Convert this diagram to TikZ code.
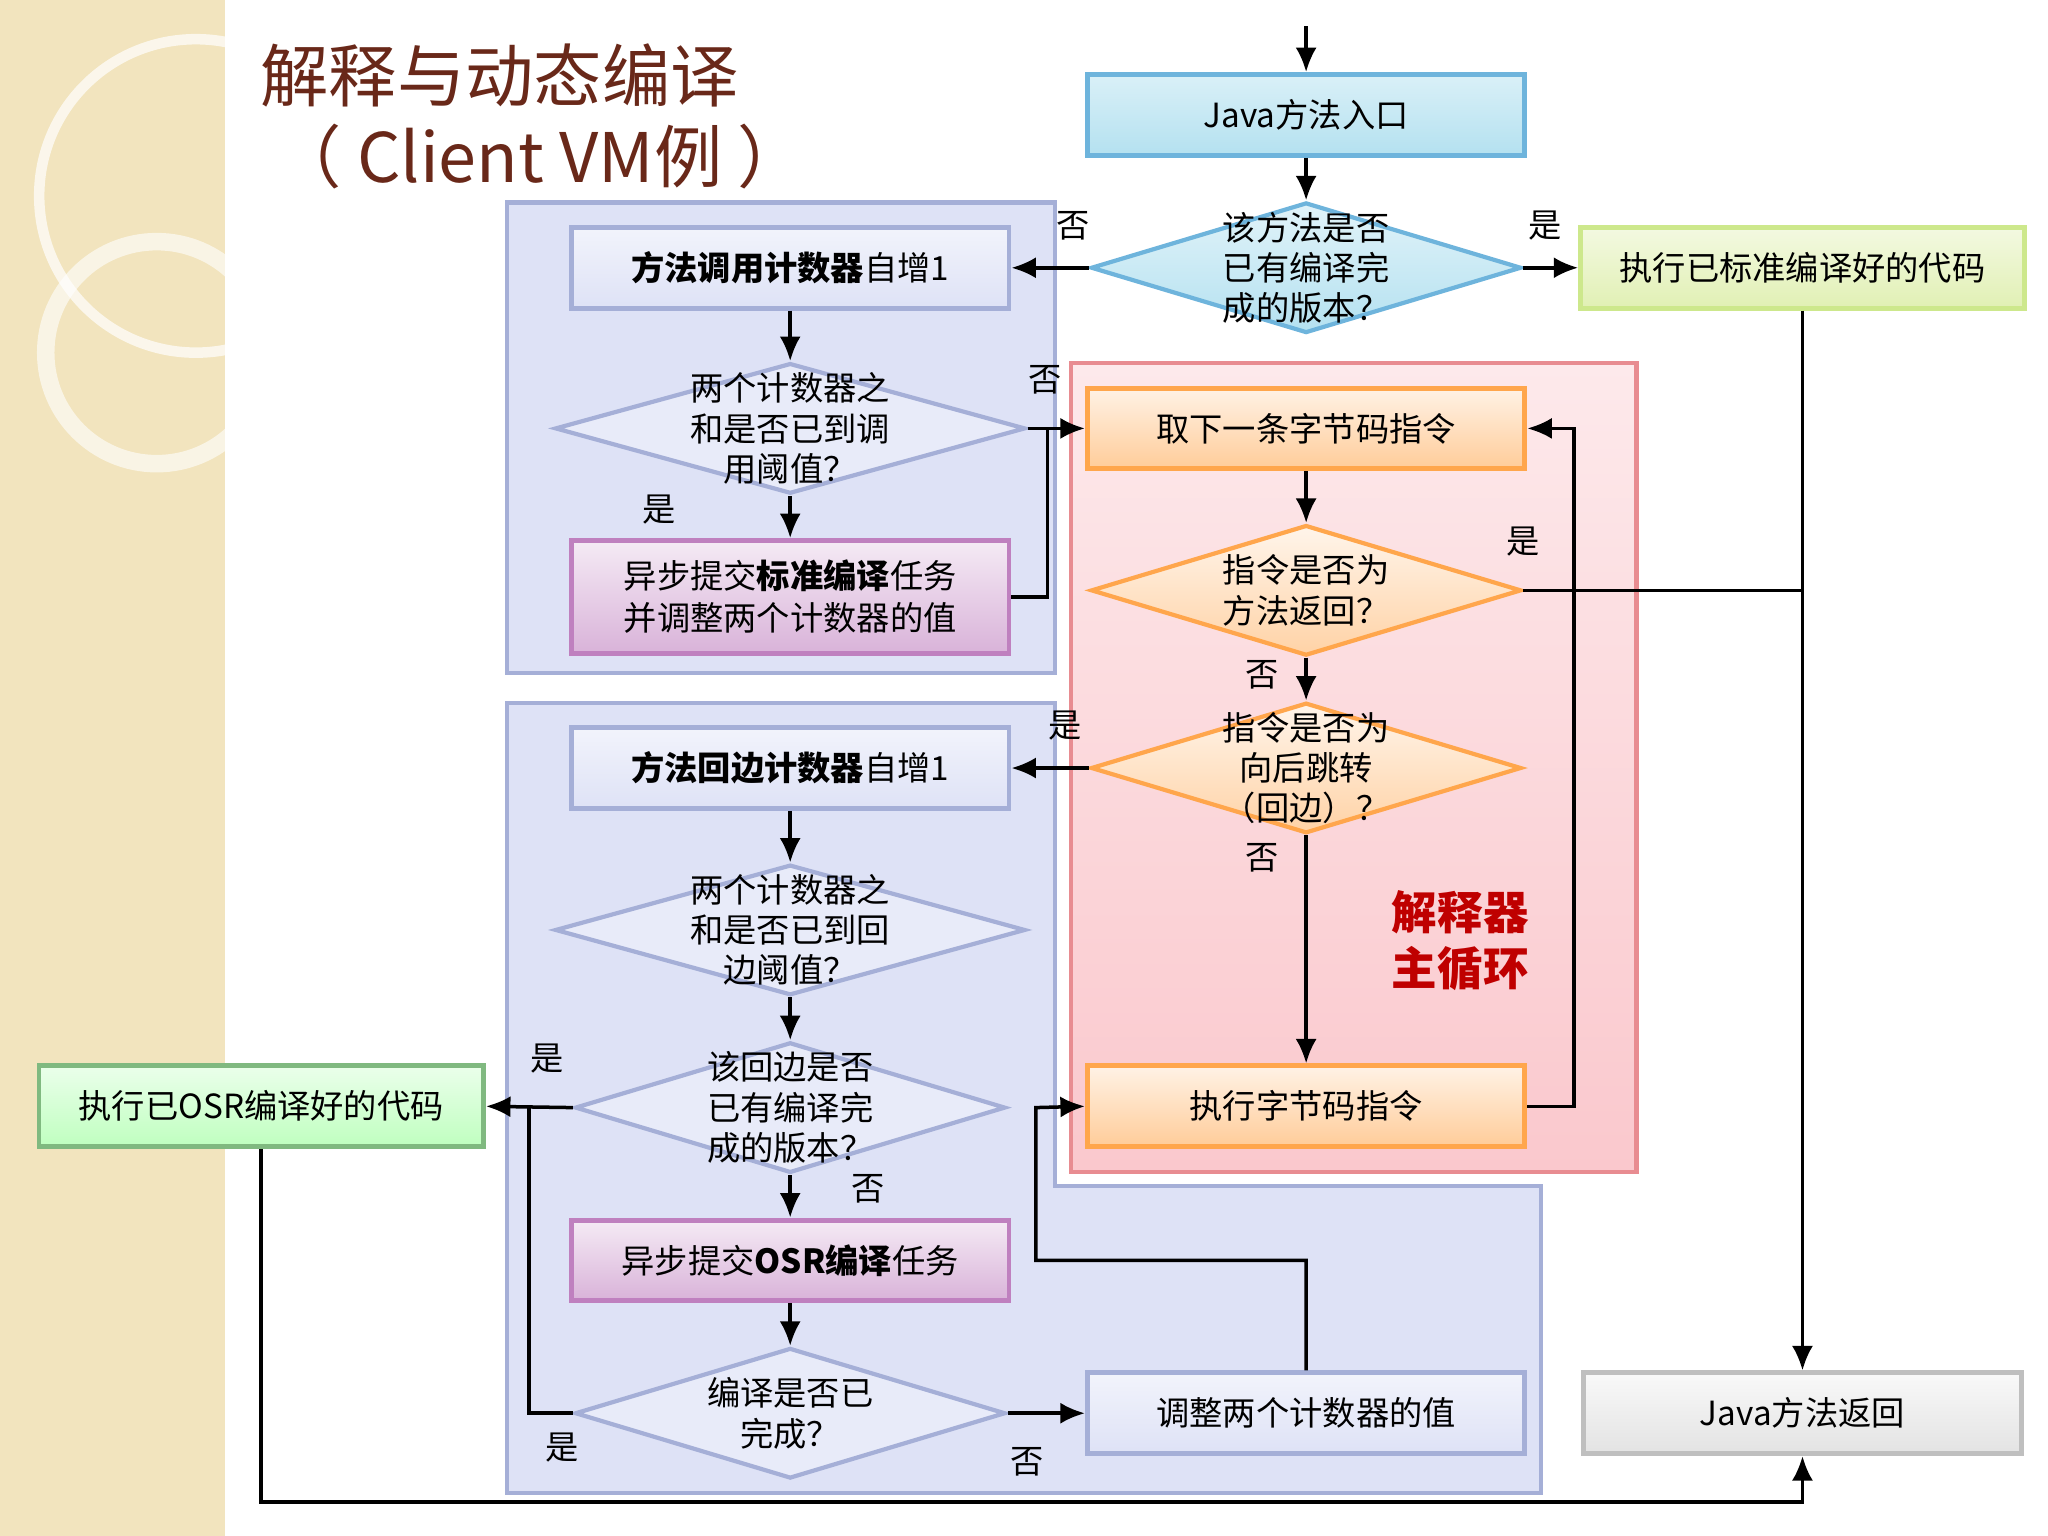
\documentclass[tikz,border=0pt]{standalone}
\usepackage{fontspec}
\setmainfont{Noto Sans CJK SC}
\usetikzlibrary{shapes.geometric,arrows.meta}

\definecolor{beige}{RGB}{242,228,190}
\definecolor{titlec}{RGB}{105,40,25}
\definecolor{panelc}{RGB}{222,226,246}
\definecolor{paneld}{RGB}{165,175,215}
\definecolor{redp}{RGB}{250,200,205}
\definecolor{redd}{RGB}{232,140,145}
\definecolor{stdc}{RGB}{225,240,180}
\definecolor{stdd}{RGB}{205,232,140}
\definecolor{entc}{RGB}{180,225,240}
\definecolor{entd}{RGB}{110,180,220}

\tikzset{
  box/.style={draw, line width=1.4pt, minimum width=4.39cm, minimum height=0.81cm, font=\fontsize{9.5}{12}\selectfont, align=center},
  lav/.style={box, draw=paneld, top color=white!60!panelc, bottom color=panelc},
  purp/.style={box, draw=violet!50, top color=violet!8, bottom color=violet!30},
  oran/.style={box, draw=orange!70, top color=orange!10, bottom color=orange!40},
  dia/.style={diamond, draw, line width=1.2pt, inner sep=0pt, minimum width=4.32cm, minimum height=1.31cm},
  diab/.style={dia, draw=paneld, fill=panelc!70},
  diao/.style={dia, draw=orange!70, top color=orange!8, bottom color=orange!35},
  txt/.style={font=\fontsize{9.5}{11.5}\selectfont, align=center},
  conn/.style={line width=1pt, -{Latex[length=7pt,width=6pt]}},
  wire/.style={line width=1pt},
  lbl/.style={font=\fontsize{9.5}{11}\selectfont}
}

\begin{document}
\begin{tikzpicture}[x=0.0131cm, y=-0.0131cm]
\useasboundingbox (0,0) rectangle (1568,1176);
% background
\fill[beige] (0,0) rectangle (172,1176);
\draw[white, line width=3pt, opacity=.7] (150,150) circle (120);
\draw[white, line width=5pt, opacity=.6] (120,270) circle (85);
\node[font=\fontsize{19.5}{24}\selectfont, text=titlec, anchor=west] (title1) at (190,58) {解释与动态编译};
\node[font=\fontsize{19.5}{24}\selectfont, text=titlec, anchor=west] (title2) at (200,120) {（ Client VM例 ）};

% panels
\draw[paneld, fill=panelc, line width=1.2pt] (388,155) rectangle (808,515);
\draw[paneld, fill=panelc, line width=1.2pt] (388,538) -- (808,538) -- (808,908) -- (1180,908) -- (1180,1143) -- (388,1143) -- cycle;
\draw[redd, top color=redp!40, bottom color=redp, line width=1.2pt] (820,278) rectangle (1253,897);
\node[txt, text=red!75!black, font=\fontsize{13}{16}\selectfont\bfseries] (loop) at (1118,720) {解释器\\主循环};

% nodes
\node[box, draw=entd, top color=entc!50, bottom color=entc] (entry) at (1000,88) {Java方法入口};
\node[dia, draw=entd, top color=entc!40, bottom color=entc] (d1) at (1000,205) {};
\node[txt] at (d1) {该方法是否\\已有编译完\\成的版本？};
\node[box, minimum width=4.45cm, draw=stdd, top color=stdc!40, bottom color=stdc] (std) at (1380,205) {执行已标准编译好的代码};
\node[lav] (inc1) at (605,205) {\textbf{方法调用计数器}自增1};
\node[diab, minimum width=4.72cm] (dd1) at (605,328) {};
\node[txt] at (dd1) {两个计数器之\\和是否已到调\\用阈值？};
\node[purp, minimum height=1.13cm] (sub1) at (605,457) {异步提交\textbf{标准编译}任务\\并调整两个计数器的值};
\node[oran] (fetch) at (1000,328) {取下一条字节码指令};
\node[diao] (d2) at (1000,452) {};
\node[txt] at (d2) {指令是否为\\方法返回？};
\node[diao] (d3) at (1000,588) {};
\node[txt] at (d3) {指令是否为\\向后跳转\\（回边）？};
\node[oran] (exec) at (1000,847) {执行字节码指令};
\node[lav] (inc2) at (605,588) {\textbf{方法回边计数器}自增1};
\node[diab, minimum width=4.72cm] (dd2) at (605,712) {};
\node[txt] at (dd2) {两个计数器之\\和是否已到回\\边阈值？};
\node[diab] (dd3) at (605,848) {};
\node[txt] at (dd3) {该回边是否\\已有编译完\\成的版本？};
\node[box, minimum width=4.46cm, draw=green!45!black!50, top color=green!8, bottom color=green!25] (osr) at (200,847) {执行已OSR编译好的代码};
\node[purp] (sub2) at (605,965) {异步提交\textbf{OSR编译}任务};
\node[diab] (dd4) at (605,1082) {};
\node[txt] at (dd4) {编译是否已\\完成？};
\node[lav] (adj) at (1000,1082) {调整两个计数器的值};
\node[box, draw=gray!50, top color=gray!5, bottom color=gray!22] (ret) at (1380,1082) {Java方法返回};

% helper points
\coordinate (top) at (1000,20);
\coordinate (j1) at (802,457);
\coordinate (j2) at (802,328);
\coordinate (j3) at (1380,452);
\coordinate (r1) at (1205,847);
\coordinate (r2) at (1205,328);
\coordinate (l1) at (405,1082);
\coordinate (l2) at (405,848);
\coordinate (a1) at (1000,965);
\coordinate (a2) at (793,965);
\coordinate (a3) at (793,848);
\coordinate (b1) at (200,1150);
\coordinate (b2) at (1380,1150);

% connectors
\draw[conn] (top) -- (entry);
\draw[conn] (entry) -- (d1);
\draw[conn] (d1.west) -- (inc1.east) node[lbl, pos=.2, above=4pt] {否};
\draw[conn] (d1.east) -- (std.west) node[lbl, pos=.4, above=4pt] {是};
\draw[conn] (std.south) -- (ret.north);
\draw[conn] (inc1) -- (dd1);
\draw[conn] (dd1.south) -- (sub1.north);
\node[lbl] (yes1) at (505,390) {是};
\draw[conn] (dd1.east) -- (fetch.west) node[lbl, pos=.3, above=6pt] {否};
\draw[wire] (sub1.east) -- (j1) -- (j2);
\draw[conn] (fetch) -- (d2);
\draw[wire] (d2.east) -- (j3) node[lbl, pos=0, above=6pt] {是};
\draw[conn] (d2.south) -- (d3.north) node[lbl, pos=.4, left=4pt] {否};
\draw[conn] (d3.west) -- (inc2.east) node[lbl, pos=.3, above=4pt] {是};
\draw[conn] (d3.south) -- (exec.north) node[lbl, pos=.1, left=4pt] {否};
\draw[conn] (exec.east) -- (r1) -- (r2) -- (fetch.east);
\draw[conn] (inc2) -- (dd2);
\draw[conn] (dd2) -- (dd3);
\draw[conn] (dd3.west) -- (osr.east) node[lbl, pos=.3, above=6pt] {是};
\draw[conn] (dd3.south) -- (sub2.north);
\node[lbl] (no3) at (665,910) {否};
\draw[conn] (sub2) -- (dd4);
\draw[wire] (dd4.west) -- (l1) -- (l2);
\node[lbl] (yes4) at (430,1108) {是};
\draw[conn] (dd4.east) -- (adj.west) node[lbl, pos=.25, below=6pt] {否};
\draw[conn] (adj.north) -- (a1) -- (a2) -- (a3) -- (exec.west);
\draw[conn] (osr.south) -- (b1) -- (b2) -- (ret.south);
\end{tikzpicture}
\end{document}
